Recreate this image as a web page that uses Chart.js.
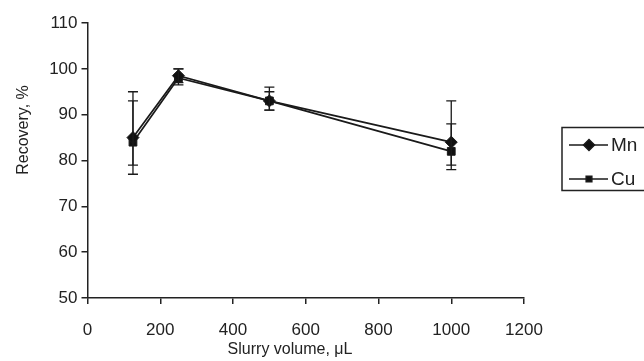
<!DOCTYPE html>
<html>
<head>
<meta charset="utf-8">
<script src="https://cdn.jsdelivr.net/npm/chart.js@4"></script>
<style>
  html, body { margin: 0; padding: 0; background: #fff; }
  #wrap { width: 644px; height: 361px; }
</style>
</head>
<body>
<div id="wrap"><canvas id="grafico"></canvas></div>
<script>
// dados
const volumes = [125, 250, 500, 1000];
const mnValues = [85, 98.5, 93, 84];
const mnLow = [77, 96.5, 91, 79];
const mnHigh = [95, 100, 96, 93];
const cuValues = [84, 98, 93, 82];
const cuLow = [79, 97, 91, 78];
const cuHigh = [93, 100, 95, 88];
const xTicks = [0, 200, 400, 600, 800, 1000, 1200];
const yTicks = [50, 60, 70, 80, 90, 100, 110];

const fonte = "'Liberation Sans', Arial, sans-serif";
const corTexto = '#222';

function pontos(vals) {
  return volumes.map((v, i) => ({ x: v, y: vals[i] }));
}

// barras de erro
const barrasErro = {
  id: 'barrasErro',
  afterDatasetsDraw(chart) {
    const ctx = chart.ctx;
    const y = chart.scales.y;
    ctx.save();
    ctx.strokeStyle = '#1a1a1a';
    ctx.lineWidth = 1.3;
    chart.data.datasets.forEach((ds, d) => {
      const meta = chart.getDatasetMeta(d);
      meta.data.forEach((pt, i) => {
        const y1 = y.getPixelForValue(ds.low[i]);
        const y2 = y.getPixelForValue(ds.high[i]);
        ctx.beginPath();
        ctx.moveTo(pt.x, y1); ctx.lineTo(pt.x, y2);
        ctx.moveTo(pt.x - 5, y1); ctx.lineTo(pt.x + 5, y1);
        ctx.moveTo(pt.x - 5, y2); ctx.lineTo(pt.x + 5, y2);
        ctx.stroke();
      });
    });
    ctx.restore();
  }
};

// legenda com caixa e títulos dos eixos
const extras = {
  id: 'extras',
  afterDraw(chart) {
    const ctx = chart.ctx;
    ctx.save();
    ctx.strokeStyle = '#222';
    ctx.lineWidth = 1.5;
    ctx.strokeRect(562, 127.5, 100, 63);
    ctx.font = '19px ' + fonte;
    ctx.textBaseline = 'middle';
    chart.data.datasets.forEach((ds, d) => {
      const yy = 145 + d * 34;
      ctx.strokeStyle = '#1a1a1a';
      ctx.lineWidth = 1.5;
      ctx.beginPath();
      ctx.moveTo(569, yy); ctx.lineTo(608, yy);
      ctx.stroke();
      ctx.fillStyle = '#111';
      Chart.helpers.drawPoint(ctx, {
        pointStyle: ds.pointStyle,
        radius: d === 0 ? 5.5 : 4,
        rotation: 0,
        borderWidth: 1
      }, 589, yy);
      ctx.fillStyle = corTexto;
      ctx.fillText(ds.label, 611, yy + 1);
    });
    ctx.font = '16px ' + fonte;
    ctx.textAlign = 'center';
    ctx.fillText('Slurry volume, μL', 290, 350);
    ctx.translate(24, 130);
    ctx.rotate(-Math.PI / 2);
    ctx.fillText('Recovery, %', 0, 0);
    ctx.restore();
  }
};

const ctxGrafico = document.getElementById('grafico');
new Chart(ctxGrafico, {
  type: 'line',
  data: {
    datasets: [
      {
        label: 'Mn',
        data: pontos(mnValues),
        low: mnLow,
        high: mnHigh,
        borderColor: '#1a1a1a',
        backgroundColor: '#111',
        borderWidth: 1.7,
        pointStyle: 'rectRot',
        pointRadius: 6,
        pointBorderWidth: 1,
        tension: 0
      },
      {
        label: 'Cu',
        data: pontos(cuValues),
        low: cuLow,
        high: cuHigh,
        borderColor: '#1a1a1a',
        backgroundColor: '#111',
        borderWidth: 1.7,
        pointStyle: 'rect',
        pointRadius: 5.5,
        pointBorderWidth: 1,
        tension: 0
      }
    ]
  },
  options: {
    responsive: true,
    maintainAspectRatio: false,
    animation: false,
    layout: { padding: { top: 23, right: 120, left: 0, bottom: 0 } },
    plugins: { legend: { display: false }, tooltip: { enabled: false } },
    scales: {
      x: {
        type: 'linear',
        min: 0, max: 1200,
        afterBuildTicks: s => { s.ticks = xTicks.map(v => ({ value: v })); },
        afterFit: s => { s.height = 63; },
        grid: { drawOnChartArea: false, color: '#222', lineWidth: 1.5, tickLength: 6 },
        border: { color: '#222', width: 1.5 },
        ticks: { color: corTexto, font: { family: fonte, size: 17 }, padding: 16, maxRotation: 0, callback: v => String(v) }
      },
      y: {
        min: 50, max: 110,
        afterBuildTicks: s => { s.ticks = yTicks.map(v => ({ value: v })); },
        afterFit: s => { s.width = 87.5; },
        grid: { drawOnChartArea: false, color: '#222', lineWidth: 1.5, tickLength: 6 },
        border: { color: '#222', width: 1.5 },
        ticks: { color: corTexto, font: { family: fonte, size: 17 }, padding: 4, callback: v => String(v) }
      }
    }
  },
  plugins: [barrasErro, extras]
});
</script>
</body>
</html>
